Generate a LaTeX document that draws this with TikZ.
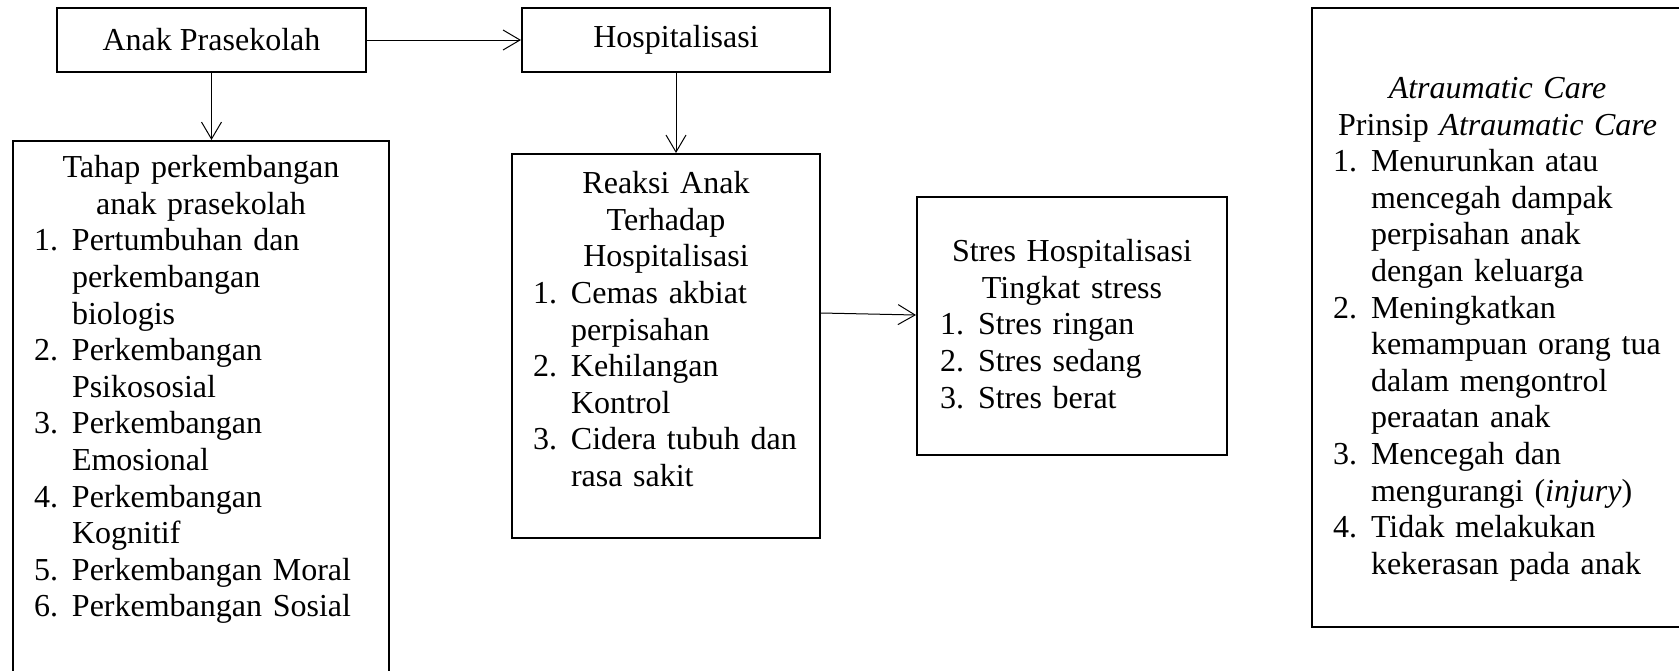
\documentclass[tikz,border=0pt]{standalone}
\usepackage{fontspec}
\setmainfont{Liberation Serif}
\usetikzlibrary{arrows.meta,positioning}

\tikzset{
  kotak/.style={draw, line width=1pt, inner sep=0pt, font=\fontsize{16}{18.3}\selectfont},
  isi/.style={anchor=north, inner sep=0pt, align=center, font=\fontsize{16}{18.3}\selectfont},
  panah/.style={-{Straight Barb[length=8.5pt,width=10pt]}, line width=0.5pt},
}
\newcommand{\daftar}[1]{\makebox[\linewidth][l]{\begin{tabular}[t]{@{}p{19pt}@{}l@{}}#1\end{tabular}}}

\begin{document}
\begin{tikzpicture}[x=0.5pt, y=-0.5pt]
  \useasboundingbox (0,0) rectangle (1679,670);

  % Kotak
  \node[kotak, minimum width=154.5pt, minimum height=32pt] (anak) at (211.5,40) {Anak Prasekolah};
  \node[kotak, minimum width=154pt, minimum height=32pt] (hosp) at (676,40) {Hospitalisasi};
  \node[kotak, minimum width=188pt, minimum height=279.5pt] (tahap) at (201,420.5) {};
  \node[kotak, minimum width=154pt, minimum height=192pt] (reaksi) at (666,346) {};
  \node[kotak, minimum width=155pt, minimum height=129pt] (stres) at (1072,326) {};
  \node[kotak, minimum width=185.5pt, minimum height=309.5pt] (atraumatik) at (1497.5,317.5) {};

  % Isi kotak
  \node[isi, text width=167pt] (tahapisi) at ([yshift=-7.5pt]tahap.north) {Tahap perkembangan\\anak prasekolah\\
    \daftar{
      1. & Pertumbuhan dan\\ & perkembangan\\ & biologis\\
      2. & Perkembangan\\ & Psikososial\\
      3. & Perkembangan\\ & Emosional\\
      4. & Perkembangan\\ & Kognitif\\
      5. & Perkembangan Moral\\
      6. & Perkembangan Sosial}};
  \node[isi, text width=133pt] (reaksiisi) at ([yshift=-9pt]reaksi.north) {Reaksi Anak\\Terhadap\\Hospitalisasi\\
    \daftar{
      1. & Cemas akbiat\\ & perpisahan\\
      2. & Kehilangan\\ & Kontrol\\
      3. & Cidera tubuh dan\\ & rasa sakit}};
  \node[isi, text width=132pt] (stresisi) at ([yshift=-21.5pt]stres.north) {Stres Hospitalisasi\\Tingkat stress\\
    \daftar{
      1. & Stres ringan\\
      2. & Stres sedang\\
      3. & Stres berat}};
  \node[isi, text width=164.5pt] (atraumatikisi) at ([yshift=-35pt]atraumatik.north) {\textit{Atraumatic Care}\\Prinsip \textit{Atraumatic Care}\\
    \daftar{
      1. & Menurunkan atau\\ & mencegah dampak\\ & perpisahan anak\\ & dengan keluarga\\
      2. & Meningkatkan\\ & kemampuan orang tua\\ & dalam mengontrol\\ & peraatan anak\\
      3. & Mencegah dan\\ & mengurangi (\textit{injury})\\
      4. & Tidak melakukan\\ & kekerasan pada anak}};

  % Panah
  \draw[panah] (anak) -- (hosp);
  \draw[panah] (anak) -- (anak |- tahap.north);
  \draw[panah] (hosp) -- (hosp |- reaksi.north);
  \draw[panah] ([yshift=16.5pt]reaksi.east) -- ([yshift=5.5pt]stres.west);
\end{tikzpicture}
\end{document}
